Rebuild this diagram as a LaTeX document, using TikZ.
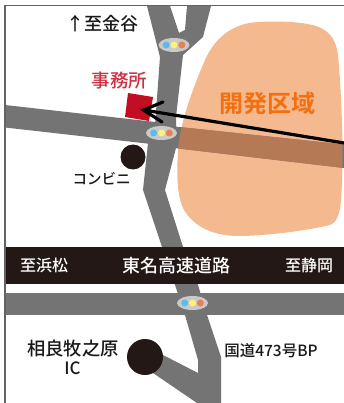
\documentclass[tikz,border=0pt]{standalone}
\usepackage{fontspec}
\setmainfont{Noto Sans CJK JP Medium}
\newfontfamily\cjkbold{Noto Sans CJK JP Bold}
\definecolor{roadgray}{HTML}{757475}
\definecolor{nightblack}{HTML}{231815}
\definecolor{areaorange}{HTML}{F4B98F}
\definecolor{bandbrown}{HTML}{B57A55}
\definecolor{officered}{HTML}{C30D23}
\definecolor{labelorange}{HTML}{F36F10}
\definecolor{lampblue}{HTML}{5ABCE8}
\definecolor{lampyellow}{HTML}{FFF07A}
\definecolor{lamporange}{HTML}{E97F55}
\definecolor{lampcase}{HTML}{C9C9C9}
\tikzset{
  x=1pt,y=-1pt,
  road/.style={fill=roadgray,draw=none},
  spot/.style={circle,fill=nightblack,inner sep=0pt,draw=none},
  lbl/.style={inner sep=0pt,text=black!90,anchor=center},
  hw/.style={inner sep=0pt,text=white,anchor=center},
  pointer/.style={draw=black,line width=3.2pt,line cap=round,line join=miter},
}
\newcommand{\signal}[2]{%
  \fill[lampcase] (#1,#2) ellipse [x radius=15.5,y radius=7];
  \fill[lampblue] (#1-7.8,#2) circle [radius=3.5];
  \fill[lampyellow] (#1,#2) circle [radius=3.5];
  \fill[lamporange] (#1+7.8,#2) circle [radius=3.5];
}
\begin{document}
\begin{tikzpicture}
\useasboundingbox (0,0) rectangle (344,403);
\fill[white] (0,0) rectangle (344,403);
% development area
\def\areapath{(249,23) .. controls (262,21) and (300,20) .. (319,27)
  .. controls (330,32) and (336,40) .. (338,55)
  .. controls (342,100) and (344,160) .. (341,200)
  .. controls (340,215) and (336,223) .. (330,225)
  .. controls (300,232) and (260,236) .. (239,236)
  .. controls (215,236) and (195,228) .. (184,210)
  .. controls (176,195) and (177,170) .. (178,150)
  .. controls (180,125) and (190,95) .. (205,60)
  .. controls (215,38) and (230,27) .. (249,23) -- cycle}
\fill[areaorange] \areapath;
% roads
\fill[road] (147,6) -- (170,6) -- (179,33) -- (185,30) -- (187,6) -- (211,6)
  -- (203,37) -- (183,55) -- (176,117) -- (176,148) -- (165,190) -- (183,247)
  -- (175,285) -- (198,285) -- (207,315) -- (221,357) -- (221,403) -- (197,403)
  -- (153,373) -- (163,355) -- (198,373) -- (198,360) -- (185,315) -- (175,285)
  -- (183,247) -- (162,247) -- (143,190) -- (148,143) -- (155,125) -- (160,57) -- cycle;
\fill[road] (162,247) -- (183,247) -- (198,285) -- (175,285) -- cycle;
\fill[road] (5,105) -- (160,122.5) -- (160,145) -- (5,127.5) -- cycle;
\fill[road] (170,126) -- (344,144.5) -- (344,168) -- (170,147.5) -- cycle;
\fill[road] (5,293) rectangle (344,315);
\begin{scope}
  \clip \areapath;
  \fill[bandbrown] (170,126) -- (344,144.5) -- (344,168) -- (170,147.5) -- cycle;
\end{scope}
% expressway
\fill[nightblack] (5,247) rectangle (344,283.5);
% signals
\signal{174}{45}
\signal{161.5}{133}
\signal{192.5}{303}
% frame
\draw[roadgray!85!black,line width=1.2pt] (344,5.5) -- (5,5.5) -- (5,403);
% office
\fill[officered] (128,93) -- (153,97) -- (149,121) -- (125,117) -- cycle;
\node[spot,minimum size=25pt] (conbini) at (133,157) {};
\node[spot,minimum size=36pt] (ic) at (145,357) {};
% arrow
\coordinate (arrowtail) at (346,143.3);
\coordinate (arrowtip) at (143.5,110);
\coordinate (barbup) at (163,102);
\coordinate (barbdown) at (162,122);
\draw[pointer] (arrowtail) -- (arrowtip);
\draw[pointer] (barbup) -- (arrowtip) -- (barbdown);
% labels
\node[lbl,font=\fontsize{18}{18}\selectfont] (kanaya) at (102,24) {↑至金谷};
\node[inner sep=0pt,text=officered!85!white,font=\fontsize{18.5}{18}\selectfont] (jimusho) at (119.5,80) {事務所};
\node[lbl,font=\fontsize{14.5}{14}\selectfont] (conbinilabel) at (101.5,179) {コンビニ};
\node[inner sep=0pt,text=labelorange,font=\cjkbold\fontsize{24}{24}\selectfont] (area) at (267,103) {開発区域};
\node[hw,font=\fontsize{16}{16}\selectfont] (hama) at (44,265) {至浜松};
\node[hw,font=\fontsize{18}{18}\selectfont] (tomei) at (176.5,265.5) {東名高速道路};
\node[hw,font=\fontsize{16}{16}\selectfont] (shizu) at (309,265) {至静岡};
\node[lbl,font=\fontsize{18.3}{18}\selectfont] (sagara) at (73,349) {相良牧之原};
\node[lbl,font=\fontsize{17}{16}\selectfont] (iclabel) at (72.5,368) {IC};
\node[lbl,font=\fontsize{15.5}{16}\selectfont] (bp) at (271,351) {国道473号BP};
\end{tikzpicture}
\end{document}
